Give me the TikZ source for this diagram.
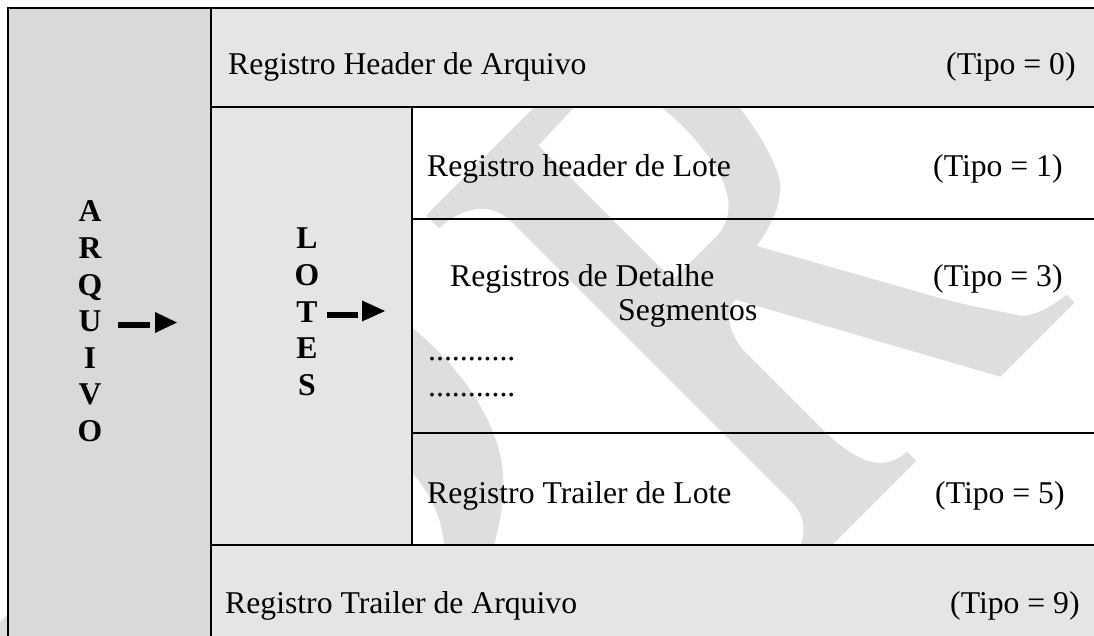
\documentclass[tikz,border=0pt]{standalone}
\usepackage{fontspec}
\setmainfont{Liberation Serif}
\definecolor{colA}{HTML}{D9D9D9}
\definecolor{colB}{HTML}{E5E5E5}
\definecolor{wm}{HTML}{DEDEDE}
\begin{document}
\begin{tikzpicture}[x=1pt,y=-1pt,
  txt/.style={anchor=base west, inner sep=0pt, font=\fontsize{31.7}{36}\selectfont},
  vl/.style={anchor=base, inner sep=0pt, font=\fontsize{31.7}{36}\selectfont\bfseries},
  rule/.style={line width=2.7pt, line join=miter},
  cellA/.style={fill=colA},
  cellB/.style={fill=colB}]

\useasboundingbox (0,0) rectangle (1094,636);
\fill[white] (0,0) rectangle (1094,636);

% ---- watermark (rotated R) ----
\begin{scope}[shift={(688.5pt,-688.5pt)}, x={(0.70711pt,0.70711pt)}, y={(-0.70711pt,0.70711pt)}]
\fill[wm] (120,0) -- (322,0) -- (322,13) .. controls (296,14) and (279,32) .. (278,85)
  -- (278,200) .. controls (280,225) and (293,241) .. (308,242) -- (441,0) -- (546,0) -- (546,11)
  .. controls (522,14) and (507,20) .. (499,28) .. controls (485,50) and (470,70) .. (454,98)
  -- (361,265) .. controls (375,266) and (410,275) .. (424,295)
  .. controls (436,315) and (445,350) .. (450,400) .. controls (455,470) and (420,520) .. (360,520)
  -- (149,520) -- (149,502) .. controls (178,500) and (204,488) .. (205,455)
  -- (205,60) .. controls (204,22) and (170,13) .. (120,13) -- cycle;
\fill[white] (278,300) -- (278,490) -- (340,492) .. controls (385,492) and (395,440) .. (393,390)
  .. controls (390,330) and (372,302) .. (340,300) -- cycle;
\end{scope}
\fill[wm] (405,322) .. controls (455,360) and (500,420) .. (503,475)
  .. controls (505,505) and (498,530) .. (490,560) -- (445,560)
  .. controls (445,520) and (430,490) .. (405,465) -- cycle;
\fill[wm] (0,622) -- (8,614) -- (8,636) -- (0,636) -- cycle;

% ---- cells ----
\path[cellA] (8,8) rectangle (211,636);
\path[cellB] (211,8) rectangle (1094,107);
\path[cellB] (211,107) rectangle (412,545);
\path[cellB] (211,545) rectangle (1094,636);

% ---- rules ----
\draw[rule] (8,636) -- (8,8) -- (1094,8);
\draw[rule] (211,8) -- (211,636);
\draw[rule] (211,107) -- (1094,107);
\draw[rule] (412,107) -- (412,545);
\draw[rule] (412,219) -- (1094,219);
\draw[rule] (412,433) -- (1094,433);
\draw[rule] (211,545) -- (1094,545);

% ---- texts ----
\node[txt] (hdrA) at (228,75) {Registro Header de Arquivo};
\node[txt] (tipo0) at (946,75) {(Tipo = 0)};
\node[txt] (hdrL) at (427,177) {Registro header de Lote};
\node[txt] (tipo1) at (933,177) {(Tipo = 1)};
\node[txt] (det) at (450,287) {Registros de Detalhe};
\node[txt] (tipo3) at (933,287) {(Tipo = 3)};
\node[txt] (seg) at (618,320) {Segmentos};
\node[txt] (dotsA) at (428,360) {...........};
\node[txt] (dotsB) at (428,396) {...........};
\node[txt] (trlL) at (427,503) {Registro Trailer de Lote};
\node[txt] (tipo5) at (935,503) {(Tipo = 5)};
\node[txt] (trlA) at (225,613) {Registro Trailer de Arquivo};
\node[txt] (tipo9) at (950,613) {(Tipo = 9)};

% ARQUIVO
\foreach \ch [count=\i from 0] in {A,R,Q,U,I,V,O}
  \node[vl] (arq\i) at (90,222+36.5*\i) {\ch};
% LOTES
\foreach \ch [count=\i from 0] in {L,O,T,E,S}
  \node[vl] (lot\i) at (307,249+36.5*\i) {\ch};

% arrows
\coordinate (arqArrow) at (118,322);
\coordinate (lotArrow) at (327,312);
\fill (arqArrow) rectangle ++(32,6);
\fill (155,312) -- (177,322.5) -- (155,333) -- cycle;
\fill (lotArrow) rectangle ++(31,5.5);
\fill (362,300.5) -- (385,311) -- (362,321.5) -- cycle;
\end{tikzpicture}
\end{document}
